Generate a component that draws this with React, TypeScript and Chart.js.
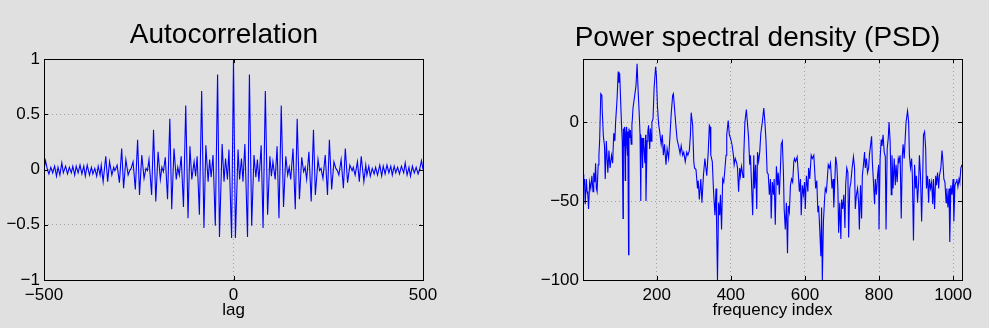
import React, { useEffect, useRef } from 'react';
import { Chart, registerables } from 'chart.js';

Chart.register(...registerables);

const BG = '#e0e0e0';
const GRID = 'rgb(160,160,160)';
const LINE = '#0000ff';
const TICK_FONT = { family: '"Liberation Sans", Arial, sans-serif', size: 17 };

// ---------- Autocorrelation ----------
const acfLags = [
  -500, -496, -491, -487, -482, -477, -472, -467, -463, -458, -453, -449, -443, -438, -433, -428,
  -424, -419, -415, -410, -405, -400, -395, -391, -386, -380, -375, -371, -366, -361, -357, -352,
  -349, -344, -337, -332, -327, -321, -316, -313, -307, -301, -295, -290, -284, -278, -274, -270,
  -265, -259, -253, -248, -242, -236, -231, -227, -223, -216, -211, -205, -199, -193, -189, -185,
  -180, -174, -168, -163, -157, -151, -147, -143, -138, -132, -126, -120, -115, -110, -104, -100,
  -96, -90, -84, -78, -73, -67, -63, -59, -54, -48, -42, -37, -30, -25, -21, -16, -12, -5,
  0,
  5, 12, 16, 21, 25, 30, 37, 42, 48, 54, 59, 63, 67, 73, 78, 84, 90, 96, 100, 104, 110, 115, 120,
  126, 132, 138, 143, 147, 151, 157, 163, 168, 174, 180, 185, 189, 193, 199, 205, 211, 216, 223,
  227, 231, 236, 242, 248, 253, 259, 265, 270, 274, 278, 284, 290, 295, 301, 307, 313, 316, 321,
  327, 332, 337, 344, 349, 352, 357, 361, 366, 371, 375, 380, 386, 391, 395, 400, 405, 410, 415,
  419, 424, 428, 433, 438, 443, 449, 453, 458, 463, 467, 472, 477, 482, 487, 491, 496, 500,
];
const acfValues = [
  0.0, 0.08, 0.0, -0.04, 0.02, -0.03, 0.03, -0.06, 0.02, -0.05, 0.06, -0.03, 0.03, -0.04, 0.02, -0.03,
  0.03, -0.05, 0.03, -0.03, 0.04, -0.04, 0.03, -0.06, 0.04, -0.05, 0.02, -0.04, 0.01, -0.06, 0.03, -0.05,
  0.04, -0.11, 0.12, -0.11, 0.07, -0.05, 0.02, -0.01, 0.04, -0.12, 0.19, -0.17, 0.09, -0.05, -0.01, 0.01,
  0.07, -0.18, 0.27, -0.23, 0.13, -0.08, 0.01, -0.01, 0.09, -0.23, 0.36, -0.29, 0.16, -0.09, 0.02, -0.02,
  0.11, -0.27, 0.46, -0.36, 0.19, -0.09, 0.02, -0.05, 0.12, -0.34, 0.58, -0.44, 0.21, -0.09, 0.07, -0.06,
  0.12, -0.41, 0.71, -0.53, 0.22, -0.11, 0.09, -0.07, 0.13, -0.51, 0.86, -0.61, 0.23, -0.11, 0.10, -0.09, 0.18, -0.62,
  1.0,
  -0.62, 0.18, -0.09, 0.10, -0.11, 0.23, -0.61, 0.86, -0.51, 0.13, -0.07, 0.09, -0.11, 0.22, -0.53, 0.71, -0.41, 0.12, -0.06, 0.07, -0.09, 0.21, -0.44,
  0.58, -0.34, 0.12, -0.05, 0.02, -0.09, 0.19, -0.36, 0.46, -0.27, 0.11, -0.02, 0.02, -0.09, 0.16, -0.29, 0.36, -0.23, 0.09,
  -0.01, 0.01, -0.08, 0.13, -0.23, 0.27, -0.18, 0.07, 0.01, -0.01, -0.05, 0.09, -0.17, 0.19, -0.12, 0.04, -0.01, 0.02, -0.05,
  0.07, -0.11, 0.12, -0.11, 0.04, -0.05, 0.03, -0.06, 0.01, -0.04, 0.02, -0.05, 0.04, -0.06, 0.03, -0.04, 0.04, -0.03, 0.03,
  -0.05, 0.03, -0.03, 0.02, -0.04, 0.03, -0.03, 0.06, -0.05, 0.02, -0.06, 0.03, -0.03, 0.02, -0.04, 0.0, 0.08, 0.0,
];
const acfXTicks = [-500, 0, 500];
const acfYTicks = [-1, -0.5, 0, 0.5, 1];

// ---------- Power spectral density ----------
const psdIndex = [
  1, 3, 5, 7, 10, 12, 14, 16, 19, 22, 25, 28, 30, 33, 35, 37, 39, 42, 44, 46, 49, 52, 53, 56, 59, 61,
  64, 68, 71, 74, 78, 81, 84, 87, 89, 93, 96, 98, 100, 103, 105, 107, 109, 110, 112, 113, 115, 116,
  118, 119, 121, 122, 124, 125, 127, 129, 131, 133, 134, 136, 140, 144, 147, 150, 153, 155, 157, 158,
  160, 162, 163, 165, 168, 170, 171, 174, 176, 178, 181, 183, 185, 187, 190, 193, 197, 199, 202, 205,
  208, 212, 215, 218, 221, 225, 228, 232, 236, 239, 243, 245, 249, 252, 255, 259, 263, 266, 270, 273,
  277, 281, 284, 288, 291, 293, 297, 300, 302, 306, 310, 312, 315, 319, 322, 326, 330, 335, 339, 342,
  344, 346, 350, 353, 357, 360, 362, 364, 367, 370, 372, 375, 378, 381, 384, 387, 389, 393, 396, 399,
  403, 407, 409, 412, 416, 418, 421, 424, 426, 429, 433, 435, 438, 442, 444, 448, 451, 453, 456, 459,
  462, 464, 467, 470, 472, 475, 478, 481, 485, 489, 492, 495, 498, 501, 504, 507, 509, 512, 515, 517,
  520, 523, 526, 528, 531, 534, 536, 539, 542, 544, 547, 550, 553, 555, 558, 561, 564, 567, 570, 572,
  575, 579, 582, 585, 588, 590, 593, 596, 599, 601, 604, 608, 610, 613, 617, 620, 624, 626, 629, 632,
  635, 637, 640, 643, 645, 647, 650, 653, 655, 658, 661, 663, 666, 669, 673, 676, 678, 681, 683, 686,
  689, 691, 694, 697, 699, 702, 705, 708, 710, 713, 716, 718, 721, 724, 727, 731, 734, 736, 739, 742,
  745, 747, 750, 753, 755, 758, 761, 763, 766, 769, 772, 774, 777, 780, 782, 785, 788, 790, 793, 796,
  799, 800, 803, 806, 808, 811, 814, 817, 819, 822, 825, 827, 830, 833, 835, 838, 841, 844, 846, 849,
  852, 854, 857, 860, 863, 865, 868, 871, 873, 877, 880, 882, 885, 888, 890, 893, 896, 899, 901, 904,
  907, 909, 912, 915, 918, 920, 923, 926, 928, 931, 934, 936, 939, 942, 945, 947, 950, 953, 955, 958,
  961, 963, 967, 970, 972, 975, 978, 981, 983, 986, 989, 991, 994, 997, 1000, 1002, 1005, 1008, 1010,
  1013, 1016, 1018, 1021, 1024,
];
const psdValues = [
  -33, -40, -36, -52, -36, -44, -46, -55, -38, -42, -34, -44, -32, -38, -26, -42, -44, -27, -21, -11, 18, 17, 7, -9, -15, -36,
  -12, -32, -18, -29, -21, -26, -7, -12, 0, 15, 32, 25, 31, 11, -2, -12, -61, -4, -15, -3, -37, -8,
  -3, -14, -21, -6, -84, -4, -10, -5, -14, -2, 1, 9, 16, 23, 37, 19, 4, -8, -50, -10,
  -12, -29, -10, -14, -26, -8, -50, -12, -6, -2, -17, -4, -12, 0, 2, 22, 35, 30, 10, -1,
  -6, -14, -8, -21, -14, -27, -17, -23, -8, 5, 17, 18, 6, -3, -11, -15, -20, -15, -21, -19,
  -25, -19, -21, -18, -8, 6, -2, -25, -29, -30, -42, -37, -49, -36, -51, -34, -23, -34, -19, -2,
  -3, -21, -25, -42, -59, -42, -70, -100, -51, -59, -46, -68, -36, -38, -30, -21, -8, 1, -8, -10,
  -14, -21, -27, -23, -26, -29, -44, -29, -34, -28, -35, -21, 0, 8, 2, -10, -27, -21, -40, -59,
  -21, -42, -27, -55, -19, -25, -19, -7, 0, 9, 0, -12, -32, -33, -46, -36, -61, -38, -46, -36,
  -65, -28, -40, -32, -46, -29, -14, -12, -32, -55, -68, -51, -83, -53, -57, -40, -36, -38, -25, -23,
  -25, -22, -32, -44, -36, -59, -40, -46, -38, -55, -34, -44, -29, -36, -21, -23, -21, -29, -42, -37,
  -57, -53, -68, -85, -54, -100, -63, -49, -42, -44, -34, -27, -29, -26, -42, -36, -54, -36, -22, -27,
  -42, -70, -51, -74, -49, -55, -46, -67, -40, -29, -32, -73, -42, -38, -30, -22, -29, -55, -46, -42,
  -51, -68, -40, -61, -34, -27, -19, -29, -23, -32, -29, -21, -15, -9, -25, -38, -52, -36, -46, -34,
  -27, -68, -23, -11, -15, -8, -19, -22, -68, -17, -10, 0, -12, -46, -21, -42, -23, -40, -27, -38,
  -23, -25, -21, -61, -21, -14, -23, -9, 0, 7, 0, -21, -29, -23, -34, -75, -27, -42, -34, -51,
  -38, -21, -34, -63, -34, -8, -6, -17, -42, -34, -51, -36, -42, -38, -52, -36, -55, -34, -40, -32,
  -42, -34, -29, -18, -23, -36, -38, -51, -42, -54, -42, -76, -40, -46, -36, -63, -40, -38, -36,
  -41, -36, -38, -29, -27,
];
const psdXTicks = [200, 400, 600, 800, 1000];
const psdYTicks = [-100, -50, 0];

const fmt = (v: number) => String(v).replace('-', '\u2212');

const framePlugin = {
  id: 'frame',
  afterDraw(chart: any, _args: any, opts: any) {
    const { ctx, chartArea: a } = chart;
    const xs = chart.scales.x;
    const ys = chart.scales.y;
    const L = 4;
    ctx.save();
    ctx.strokeStyle = '#000';
    ctx.lineWidth = 1;
    ctx.beginPath();
    for (const t of xs.ticks) {
      const px = Math.round(xs.getPixelForValue(t.value)) + 0.5;
      ctx.moveTo(px, a.bottom);
      ctx.lineTo(px, a.bottom - L);
      ctx.moveTo(px, a.top);
      ctx.lineTo(px, a.top + L);
    }
    for (const t of ys.ticks) {
      const py = Math.round(ys.getPixelForValue(t.value)) + 0.5;
      ctx.moveTo(a.left, py);
      ctx.lineTo(a.left + L, py);
      ctx.moveTo(a.right, py);
      ctx.lineTo(a.right - L, py);
    }
    ctx.stroke();
    ctx.strokeRect(
      Math.round(a.left) + 0.5,
      Math.round(a.top) + 0.5,
      Math.round(a.right - a.left),
      Math.round(a.bottom - a.top)
    );
    ctx.fillStyle = '#000';
    ctx.font = '28px "Liberation Sans", Arial, sans-serif';
    ctx.textAlign = 'center';
    ctx.textBaseline = 'alphabetic';
    ctx.fillText(opts.title, opts.titleX, opts.titleY);
    ctx.restore();
  },
};

type Panel = {
  xs: number[];
  ys: number[];
  xMin: number;
  xMax: number;
  yMin: number;
  yMax: number;
  xTicks: number[];
  yTicks: number[];
  xTitle: string;
  title: string;
  titleX: number;
  titleY: number;
  yWidth: number;
  padRight: number;
};

function makeConfig(p: Panel): any {
  return {
    type: 'line',
    data: {
      datasets: [
        {
          data: p.xs.map((x, i) => ({ x, y: p.ys[i] })),
          borderColor: LINE,
          borderWidth: 1.1,
          pointRadius: 0,
          tension: 0,
          fill: false,
        },
      ],
    },
    options: {
      responsive: false,
      animation: false,
      events: [],
      layout: { padding: { left: 0, right: p.padRight, top: 59, bottom: 0 } },
      plugins: {
        legend: { display: false },
        tooltip: { enabled: false },
        title: { display: false },
        frame: { title: p.title, titleX: p.titleX, titleY: p.titleY },
      },
      scales: {
        x: {
          type: 'linear',
          min: p.xMin,
          max: p.xMax,
          afterBuildTicks: (s: any) => {
            s.ticks = p.xTicks.map((v) => ({ value: v }));
          },
          afterFit: (s: any) => {
            s.height = 48;
          },
          grid: { color: GRID, lineWidth: 1, drawTicks: false },
          border: { display: false, dash: [1, 3] },
          ticks: {
            padding: 5,
            color: '#000',
            font: TICK_FONT,
            maxRotation: 0,
            autoSkip: false,
            callback: (v: number) => fmt(v),
          },
          title: {
            display: true,
            text: p.xTitle,
            color: '#000',
            font: { family: '"Liberation Sans", Arial, sans-serif', size: 17 },
            padding: { top: 0, bottom: 7 },
          },
        },
        y: {
          type: 'linear',
          min: p.yMin,
          max: p.yMax,
          afterBuildTicks: (s: any) => {
            s.ticks = p.yTicks.map((v) => ({ value: v }));
          },
          afterFit: (s: any) => {
            s.width = p.yWidth;
          },
          grid: { color: GRID, lineWidth: 1, drawTicks: false },
          border: { display: false, dash: [1, 3] },
          ticks: {
            padding: 4,
            color: '#000',
            font: TICK_FONT,
            autoSkip: false,
            callback: (v: number) => fmt(v),
          },
        },
      },
    },
    plugins: [framePlugin],
  };
}

function ChartPanel({ panel, left, width }: { panel: Panel; left: number; width: number }) {
  const ref = useRef<HTMLCanvasElement | null>(null);
  useEffect(() => {
    if (!ref.current) return;
    const chart = new Chart(ref.current, makeConfig(panel));
    return () => chart.destroy();
  }, [panel]);
  return (
    <canvas
      ref={ref}
      width={width}
      height={328}
      style={{ position: 'absolute', left, top: 0, width, height: 328 }}
    />
  );
}

const acfPanel: Panel = {
  xs: acfLags,
  ys: acfValues,
  xMin: -500,
  xMax: 500,
  yMin: -1,
  yMax: 1,
  xTicks: acfXTicks,
  yTicks: acfYTicks,
  xTitle: 'lag',
  title: 'Autocorrelation',
  titleX: 224,
  titleY: 42.5,
  yWidth: 44,
  padRight: 71,
};

const psdPanel: Panel = {
  xs: psdIndex,
  ys: psdValues,
  xMin: 1,
  xMax: 1024,
  yMin: -100,
  yMax: 40,
  xTicks: psdXTicks,
  yTicks: psdYTicks,
  xTitle: 'frequency index',
  title: 'Power spectral density (PSD)',
  titleX: 263.5,
  titleY: 45.5,
  yWidth: 89,
  padRight: 27,
};

export default function App() {
  return (
    <div
      style={{
        position: 'fixed',
        left: 0,
        top: 0,
        width: 989,
        height: 328,
        background: BG,
        overflow: 'hidden',
      }}
    >
      <ChartPanel panel={acfPanel} left={0} width={494} />
      <ChartPanel panel={psdPanel} left={494} width={495} />
    </div>
  );
}
